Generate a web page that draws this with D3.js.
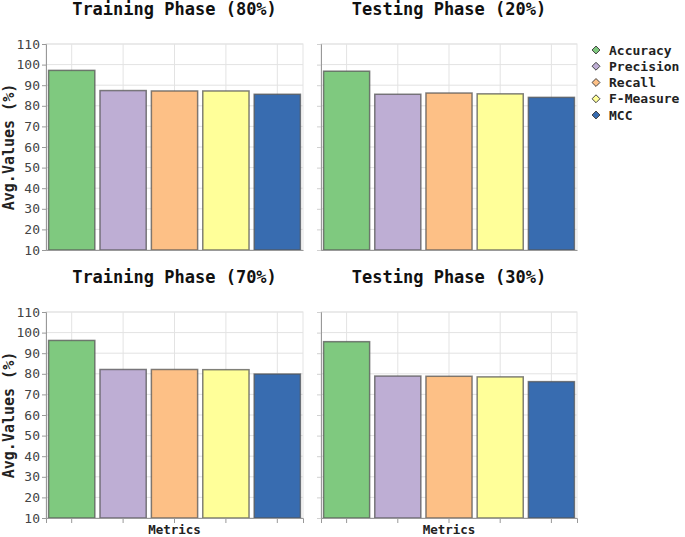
<!DOCTYPE html>
<html><head><meta charset="utf-8">
<script src="https://cdn.jsdelivr.net/npm/d3@7"></script>
<style>body{margin:0;background:#fff}svg{display:block}</style>
</head><body>
<svg id="c" width="685" height="537"></svg>
<script>
const metrics = ["Accuracy","Precision","Recall","F-Measure","MCC"];
const colors = ["#7fc97f","#beaed4","#fdc086","#ffff99","#386cb0"];
const panelTitles = ["Training Phase (80%)","Testing Phase (20%)","Training Phase (70%)","Testing Phase (30%)"];
const train80 = [97.2, 87.4, 87.2, 87.2, 85.6];
const test20  = [96.8, 85.6, 86.2, 85.8, 84.1];
const train70 = [96.2, 82.1, 82.1, 82.0, 79.9];
const test30  = [95.6, 78.9, 78.8, 78.5, 76.2];
const yTicks = [10,20,30,40,50,60,70,80,90,100,110];
const yLabel = "Avg.Values (%)";
const xLabel = "Metrics";

const seriesList = [train80, test20, train70, test30];
const FONT = "'DejaVu Sans Mono', monospace";
const svg = d3.select("#c");

const layout = [
  {x0:46, x1:303, y0:44, y1:250, row:0, col:0},
  {x0:321, x1:577, y0:44, y1:250, row:0, col:1},
  {x0:46, x1:303, y0:312, y1:518, row:1, col:0},
  {x0:321, x1:577, y0:312, y1:518, row:1, col:1}
];

layout.forEach((p, i) => {
  const vals = seriesList[i];
  const x = d3.scaleBand().domain(metrics).range([p.x0, p.x1]).paddingInner(0.1).paddingOuter(0.05);
  const y = d3.scaleLinear().domain([10,110]).range([p.y1, p.y0]);
  const g = svg.append("g");

  // grid
  g.append("g").selectAll("line.h").data(yTicks).join("line")
    .attr("x1", p.x0).attr("x2", p.x1).attr("y1", d=>y(d)).attr("y2", d=>y(d))
    .attr("stroke", "#e3e3e3").attr("stroke-width", 1);
  g.append("g").selectAll("line.v").data(metrics).join("line")
    .attr("x1", d=>x(d)+x.bandwidth()/2).attr("x2", d=>x(d)+x.bandwidth()/2)
    .attr("y1", p.y0).attr("y2", p.y1)
    .attr("stroke", "#e3e3e3").attr("stroke-width", 1);
  g.append("rect").attr("x", p.x0).attr("y", p.y0).attr("width", p.x1-p.x0).attr("height", p.y1-p.y0)
    .attr("fill","none").attr("stroke","#e3e3e3");

  // bars
  g.append("g").selectAll("rect").data(vals).join("rect")
    .attr("x", (d,j)=>x(metrics[j]))
    .attr("width", x.bandwidth())
    .attr("y", d=>y(d))
    .attr("height", d=>y(10)-y(d))
    .attr("fill", (d,j)=>colors[j])
    .attr("stroke", "#555").attr("stroke-opacity", 0.75).attr("stroke-width", 1.5);

  // y axis
  const ya = d3.axisLeft(y).tickValues(yTicks).tickSize(4).tickPadding(2);
  if (p.col === 1) ya.tickFormat("");
  const yg = g.append("g").attr("transform", `translate(${p.x0},0)`).call(ya);
  yg.select(".domain").attr("stroke", "#999");
  yg.selectAll(".tick line").attr("stroke", p.col===1 ? "#d0d0d0" : "#999");
  yg.selectAll("text").attr("font-family", FONT).attr("font-size", 13).attr("fill", "#444");

  // x axis
  const xa = d3.axisBottom(x).tickSize(p.row===1 ? 5 : 0).tickFormat("");
  const xg = g.append("g").attr("transform", `translate(0,${p.y1})`).call(xa);
  xg.select(".domain").attr("stroke", "#999");
  xg.selectAll(".tick line").attr("stroke", "#999");

  // title
  svg.append("text").attr("x", (p.x0+p.x1)/2).attr("y", p.y0-29)
    .attr("text-anchor","middle").attr("font-family", FONT).attr("font-weight","bold")
    .attr("font-size", 17).attr("fill","#111").text(panelTitles[i]);

  if (p.col === 0) {
    svg.append("text").attr("transform", `translate(14,${(p.y0+p.y1)/2}) rotate(-90)`)
      .attr("text-anchor","middle").attr("font-family", FONT).attr("font-weight","bold")
      .attr("font-size", 15).attr("fill","#222").text(yLabel);
  }
  if (p.row === 1) {
    svg.append("text").attr("x", (p.x0+p.x1)/2).attr("y", 534)
      .attr("text-anchor","middle").attr("font-family", FONT).attr("font-weight","bold")
      .attr("font-size", 12.5).attr("fill","#222").text(xLabel);
  }
});

// legend
const lg = svg.append("g");
const ly = d3.scalePoint().domain(metrics).range([50, 115]);
metrics.forEach((m, j) => {
  lg.append("path").attr("d", d3.symbol(d3.symbolDiamond2, 40)())
    .attr("transform", `translate(596,${ly(m)})`)
    .attr("fill", colors[j]).attr("stroke", "#444").attr("stroke-width", 1);
  lg.append("text").attr("x", 609).attr("y", ly(m)).attr("dy","0.35em")
    .attr("font-family", FONT).attr("font-size", 13).attr("font-weight", 600)
    .attr("fill","#222").text(m);
});
</script>
</body></html>
